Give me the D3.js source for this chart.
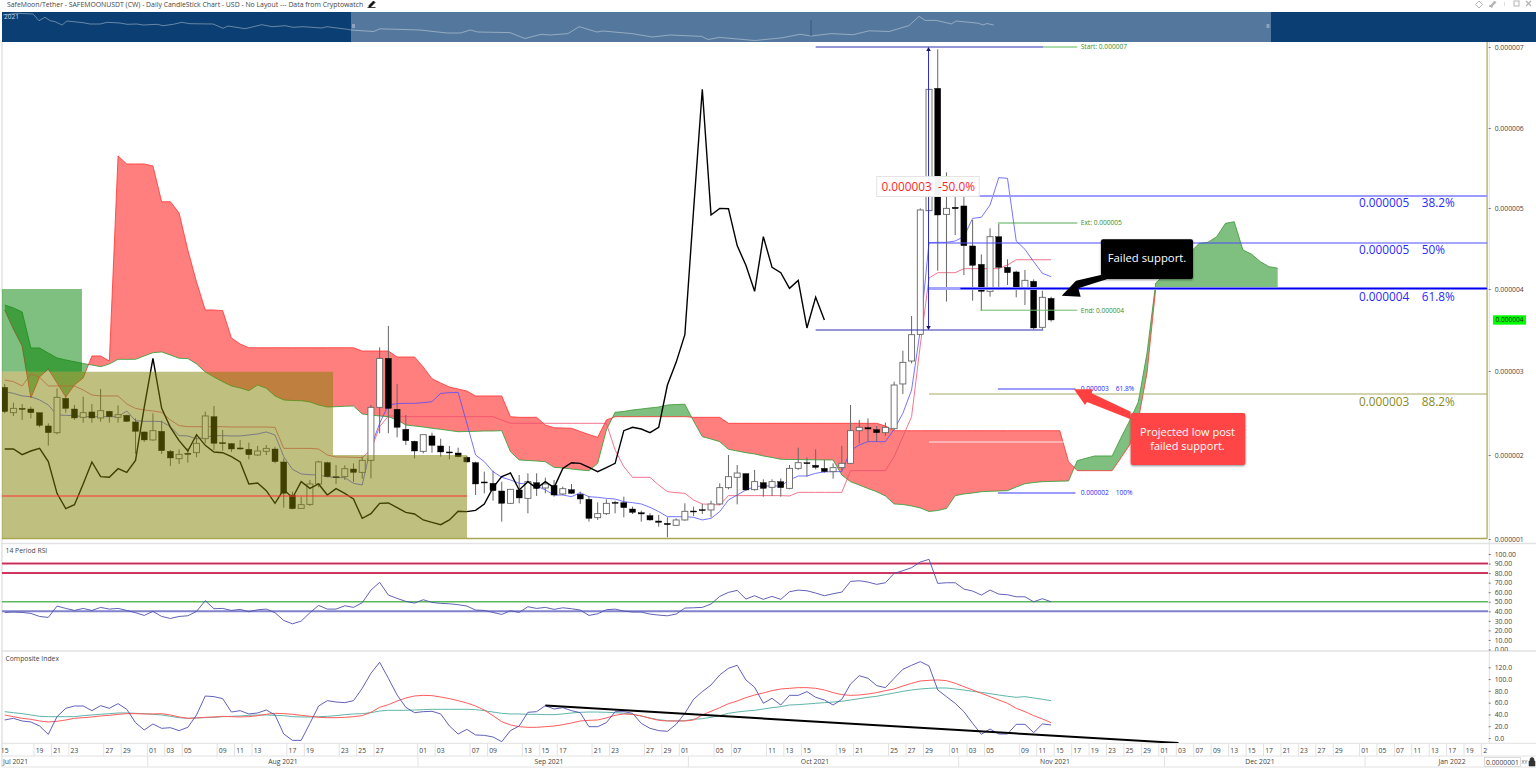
<!DOCTYPE html>
<html><head><meta charset="utf-8">
<script src="https://cdn.jsdelivr.net/npm/d3@7"></script>
<style>html,body{margin:0;padding:0;background:#fff;overflow:hidden}text{font-family:"Open Sans",sans-serif}</style>
</head><body><div id="c"></div>
<script>
// Prices are in millionths of a USD; one value per daily slot from Jul 15 2021.
const open=[2.896,2.579,2.633,2.625,2.579,2.413,2.329,2.758,2.625,2.521,2.588,2.513,2.596,2.521,2.546,2.463,2.338,2.238,2.346,2.096,2.004,2.071,2.079,2.254,2.529,2.204,2.192,2.138,2.121,2.05,2.096,2.125,1.963,1.55,1.383,1.433,1.688,1.954,1.779,1.779,1.875,1.833,1.983,2.646,3.258,2.621,2.371,2.221,2.096,2.288,2.163,2.088,2.075,2.021,1.954,1.713,1.696,1.6,1.446,1.613,1.508,1.704,1.638,1.671,1.563,1.617,1.558,1.496,1.267,1.317,1.458,1.454,1.375,1.329,1.292,1.225,1.196,1.171,1.238,1.35,1.367,1.363,1.438,1.642,1.771,1.817,1.617,1.704,1.646,1.717,1.633,1.883,1.954,1.921,1.883,1.842,1.892,1.946,2.354,2.392,2.367,2.329,2.379,2.938,3.225,3.558,5.104,6.633,5.058,5.146,5.163,4.663,4.433,4.096,4.779,4.396,4.338,4.133,4.221,3.646,4.008];
const close=[2.592,2.633,2.625,2.579,2.421,2.329,2.771,2.633,2.513,2.579,2.513,2.604,2.529,2.554,2.471,2.346,2.238,2.354,2.104,2.013,2.058,2.063,2.196,2.538,2.196,2.196,2.125,2.125,2.054,2.1,2.133,1.967,1.571,1.379,1.429,1.688,1.963,1.779,1.771,1.879,1.833,1.983,2.646,3.258,2.633,2.396,2.229,2.1,2.304,2.171,2.088,2.079,2.029,1.963,1.688,1.7,1.604,1.446,1.621,1.513,1.717,1.633,1.688,1.55,1.629,1.571,1.5,1.258,1.317,1.446,1.45,1.392,1.333,1.313,1.238,1.208,1.179,1.238,1.346,1.342,1.358,1.438,1.642,1.779,1.825,1.613,1.717,1.633,1.717,1.642,1.883,1.954,1.946,1.896,1.842,1.892,1.946,2.354,2.396,2.375,2.329,2.396,2.925,3.208,3.554,5.113,6.621,5.05,5.133,5.129,4.667,4.421,4.096,4.779,4.396,4.329,4.133,4.233,3.638,4.021,3.738];
const high=[2.938,2.704,2.688,2.654,2.579,2.446,2.883,2.779,2.675,2.779,2.688,2.875,2.604,2.671,2.554,2.508,2.342,2.571,2.479,2.113,2.121,2.133,2.308,2.592,2.663,2.363,2.2,2.238,2.204,2.163,2.175,2.154,2.008,1.592,1.529,1.738,1.979,1.967,1.925,1.921,1.946,2.029,2.675,3.396,3.663,2.938,2.55,2.229,2.304,2.329,2.254,2.163,2.142,2.038,1.967,1.842,1.854,1.717,1.621,1.8,1.821,1.821,1.767,1.738,1.654,1.688,1.592,1.538,1.458,1.496,1.479,1.529,1.404,1.354,1.321,1.3,1.271,1.258,1.446,1.404,1.438,1.479,1.696,2.05,1.925,1.821,1.863,1.746,1.746,1.758,1.925,2.142,2.021,2.121,1.988,1.946,2.163,2.675,2.488,2.508,2.413,2.454,2.967,3.354,3.788,5.133,6.621,7.121,5.583,5.342,5.321,4.988,4.558,4.883,4.938,4.496,4.354,4.363,4.246,4.104,4.029];
const low=[2.571,2.537,2.488,2.508,2.396,2.167,2.308,2.579,2.488,2.454,2.454,2.467,2.454,2.454,2.463,2.063,2.213,2.229,2.063,1.913,1.938,1.954,2.021,2.196,2.113,2.104,2.088,2.113,1.996,2.038,2.05,1.946,1.392,1.371,1.379,1.413,1.646,1.771,1.688,1.738,1.713,1.754,1.758,2.321,2.321,2.271,2.175,2.008,2.071,2.079,2.029,1.996,2.021,1.954,1.55,1.571,1.479,1.217,1.438,1.446,1.321,1.538,1.571,1.529,1.55,1.563,1.438,1.217,1.238,1.3,1.321,1.271,1.313,1.217,1.229,1.154,1.021,1.163,1.229,1.288,1.313,1.271,1.425,1.621,1.433,1.604,1.604,1.529,1.538,1.529,1.621,1.863,1.779,1.871,1.829,1.754,1.854,1.938,2.196,2.217,2.217,2.288,2.363,2.813,3.196,3.55,5.104,4.354,3.967,4.8,4.3,3.979,3.854,4.029,4.133,4.175,4.021,3.925,3.621,3.621,3.717];
const kijun=[2.988,2.967,2.913,3.063,3.021,2.913,2.913,2.913,2.913,2.863,2.8,2.788,2.788,2.788,2.688,2.633,2.613,2.6,2.583,2.488,2.417,2.404,2.404,2.404,2.404,2.404,2.4,2.4,2.4,2.4,2.4,2.396,2.133,2.133,2.133,2.133,2.125,2.05,2.025,2.025,2.021,2.017,2.113,2.404,2.538,2.538,2.529,2.529,2.529,2.529,2.529,2.529,2.529,2.529,2.529,2.529,2.529,2.488,2.446,2.446,2.446,2.446,2.446,2.446,2.446,2.446,2.446,2.446,2.446,2.446,2.113,1.904,1.771,1.771,1.771,1.675,1.592,1.579,1.571,1.488,1.438,1.433,1.425,1.542,1.542,1.542,1.542,1.542,1.542,1.542,1.538,1.583,1.583,1.583,1.583,1.583,1.583,1.854,1.854,1.854,1.854,1.854,2.029,2.279,2.529,3.425,4.263,4.329,4.329,4.329,4.379,4.379,4.379,4.379,4.379,4.425,4.491,4.491,4.491,4.491,4.491];
const tenkan=[2.842,2.821,2.788,2.779,2.738,2.675,2.55,2.546,2.542,2.529,2.529,2.529,2.529,2.529,2.6,2.479,2.471,2.471,2.467,2.404,2.292,2.288,2.25,2.271,2.292,2.292,2.288,2.288,2.3,2.313,2.338,2.3,2.029,1.871,1.813,1.804,1.8,1.779,1.767,1.767,1.696,1.675,2.154,2.446,2.675,2.692,2.696,2.696,2.704,2.717,2.821,2.829,2.833,2.446,2.05,1.967,1.842,1.771,1.738,1.696,1.688,1.663,1.613,1.55,1.55,1.529,1.579,1.529,1.521,1.508,1.5,1.467,1.454,1.438,1.396,1.342,1.279,1.279,1.279,1.271,1.238,1.258,1.342,1.488,1.55,1.613,1.654,1.663,1.663,1.663,1.738,1.788,1.788,1.821,1.838,1.842,1.842,2.104,2.175,2.217,2.217,2.217,2.371,2.571,2.863,3.613,4.704,4.708,4.708,4.725,4.779,5.008,5.021,5.175,5.517,5.508,4.725,4.621,4.467,4.321,4.279];
const spanA=[3.925,3.888,3.838,3.388,3.388,3.325,3.263,3.238,3.216,3.194,3.175,3.154,3.188,3.246,3.246,3.246,3.288,3.329,3.338,3.3,3.259,3.256,3.188,3.088,3.025,2.966,2.913,2.888,2.854,2.925,2.884,2.788,2.738,2.731,2.729,2.713,2.675,2.65,2.654,2.659,2.663,2.563,2.55,2.538,2.529,2.488,2.425,2.413,2.4,2.384,2.371,2.356,2.341,2.344,2.346,2.35,2.35,2.354,2.091,1.988,1.981,1.975,1.966,1.896,1.888,1.875,1.863,1.854,1.946,2.363,2.584,2.594,2.613,2.625,2.638,2.65,2.675,2.681,2.684,2.475,2.279,2.25,2.216,2.121,2.1,2.079,2.063,2.038,2.019,1.996,1.994,1.993,1.991,1.99,1.989,1.988,1.8,1.716,1.675,1.631,1.591,1.538,1.438,1.431,1.413,1.388,1.344,1.356,1.381,1.541,1.563,1.575,1.591,1.596,1.6,1.604,1.65,1.691,1.706,1.716,1.72,1.723,1.725,1.979,2.009,2.038,2.038,2.038,2.263,2.475,2.713,3.325,4.2,4.3,4.388,4.488,4.588,4.696,4.709,4.779,4.946,4.966,4.613,4.559,4.466,4.404,4.384];
const spanB=[3.863,3.625,3.413,2.763,3.025,3.125,2.95,2.775,2.925,3.013,3.288,3.288,3.225,5.788,5.688,5.688,5.688,5.663,5.216,5.216,5.075,4.613,4.213,3.863,3.863,3.854,3.513,3.438,3.391,3.391,3.391,3.391,3.391,3.391,3.391,3.391,3.391,3.391,3.391,3.391,3.391,3.35,3.35,3.35,3.35,3.275,3.275,3.275,3.15,3.004,2.95,2.9,2.875,2.85,2.788,2.788,2.788,2.788,2.529,2.521,2.521,2.521,2.425,2.391,2.388,2.384,2.344,2.306,2.271,2.488,2.529,2.529,2.529,2.529,2.529,2.529,2.529,2.529,2.529,2.521,2.521,2.521,2.521,2.446,2.446,2.446,2.446,2.446,2.446,2.446,2.446,2.446,2.446,2.446,2.446,2.446,2.446,2.446,2.446,2.446,2.446,2.413,2.354,2.354,2.354,2.354,2.354,2.354,2.354,2.354,2.354,2.354,2.354,2.354,2.354,2.354,2.354,2.354,2.354,2.354,2.354,2.354,1.966,1.854,1.854,1.854,1.854,1.854,2.013,2.175,2.488,3.075,4.131,4.131,4.131,4.131,4.131,4.131,4.131,4.131,4.131,4.131,4.131,4.131,4.131,4.131,4.131];
const rsi=[38.8,39.2,38.8,37.8,34.6,33.6,45.5,43,40.9,43,40.9,44.1,42.3,43,40.9,38.5,35.7,39.9,34.6,32.5,34.6,35.3,39.9,51.1,42.7,43,40.9,42,39.5,41.6,42.3,38.5,30.4,26.9,29.7,38.5,46.2,42.3,42.3,45.8,44.1,49,62.2,70.3,57,53.5,50.4,48.6,52.1,49.3,48.3,47.9,46.9,45.5,41.3,40.9,38.8,36.7,40.6,38.8,44.8,43,44.1,42,43.7,42.7,41.3,35.7,37.4,41.6,42.3,40.2,39.2,39.2,37.1,36,35.3,37.1,43.4,43.7,44.1,47.6,55.6,59.8,61.9,52.8,56.3,52.5,55.6,52.5,60.5,62.2,61.5,59.1,56.3,58.4,60.1,71.3,72,70.6,68.2,69.9,79.7,82.5,85.7,91.6,94.4,69.2,69.9,69.9,63.3,61.2,57,62.2,58,57.3,55.2,55.2,50,53.2,50];
const composite=[30.6,33.4,28.9,27.2,20.4,6.2,36.2,50.4,54.3,54.3,46.4,54.9,50.4,58.3,48.7,26,13.6,23.8,16.4,17.5,12.5,18.1,39.1,71.3,70.2,66.8,44.1,46.4,40.8,42.5,47.5,39.1,6.8,-4,-4,24.9,54.3,63.4,61.1,60,63.4,84.3,109.8,128.5,101.3,73,52.1,43,44.7,45.3,40.8,20.4,6.8,14.7,5.1,4.5,1.7,-6.2,12.5,20.4,43.6,44.7,54.9,49.2,51.5,46.4,43,19.2,19.2,26,44.7,44.7,41.9,24.9,16.4,12.5,11.3,23.2,41.9,65.7,78.7,90,107,118.3,123.4,98.5,86,58.9,67.4,56,72.4,72.4,78.7,69.1,64.5,56,65.7,91.7,105.8,101.3,88.9,85.5,101.3,116.6,123.4,129.6,122.3,81.5,70.2,58.9,44.7,24.9,6.2,15.3,6.8,6.8,23.2,23.2,9.1,23.8,22.1];
const compositeFast=[39.1,36.2,33.4,31.7,28.9,27.2,28.3,30.6,33.4,34.5,35.7,37.4,38.5,40.2,41.3,41.3,40.8,40.8,41.3,39.1,35.7,33.4,34,35.1,35.7,36.8,36.2,35.7,36.2,37.9,40.2,41.9,41.3,40.2,38.5,36.8,35.1,34.5,34.5,35.1,36.2,37.9,43.6,52.1,56.6,62.8,67.9,71.3,72.4,71.9,69.6,66.8,63.4,59.4,54.3,47.5,37.9,27.7,22.1,19.2,18.1,18.1,19.2,20.4,22.6,25.5,28.9,30,30.6,34,38.5,40.8,40.2,37.4,33.4,30,28.9,28.9,28.9,30.6,39.1,45.3,51.5,58.3,62.8,68.5,73,76.4,80.4,83.2,84.3,85.5,85.5,84.3,81.5,77,73.6,72.4,73,74.7,77,80.4,83.2,88.3,92.8,96.8,97.9,98.5,97.4,92.8,87.2,81.5,75.8,70.2,64.5,58.9,50.4,44.7,37.9,32.3,26];
const compositeSlow=[44.7,43,41.3,39.1,36.8,36.2,36.2,36.2,36.2,37.9,39.1,40.2,41.3,42.5,42.5,41.9,41.3,40.2,39.1,36.8,34.5,33.4,34,34.5,35.1,36.2,36.8,37.4,38.5,39.1,39.1,38.5,37.9,36.2,35.7,35.7,36.2,36.8,37.9,39.6,40.8,41.3,43,45.8,47,47,47,47.5,48.1,48.7,48.7,48.7,48.7,48.7,48.1,46.4,44.1,41.9,40.8,40.8,40.2,40.2,39.6,39.6,40.8,42.5,43.6,44.1,44.1,43.6,43,41.9,40.2,37.4,34,31.1,29.4,28.9,29.4,31.7,32.8,35.1,37.9,41.9,44.1,45.8,47,49.2,51.5,53.2,56,56.6,57.7,58.9,60,61.1,62.3,64.5,66.8,69.1,70.8,73.6,76.4,79.2,81.5,83.2,84.3,84.9,84.9,83.2,81.5,79.2,77.5,75.3,73,70.8,69.1,70.2,67.9,65.7,63.4];
const navDays=[-64.8,-62.2,-59.2,-58.1,-57,-56,-55.1,-53.8,-52.9,-49.9,-48.6,-46.7,-45.4,-43,-41.7,-39.9,-38.7,-36.1,-35,-33.1,-31.5,-30,-25.7,-23.8,-22.9,-19.7,-16.6,-14.7,-12.3,-10.8,-8.9,-5.4,-4.5,-0.7,0,4.2,5.4,12.8,17.9,20.4,22.2,23.6,29.6,32.4,35.4,37.1,40.4,42.5,45.8,46.9,52.3,56.1,59.4,65.3,66.5,68.6,75.2,80.3,83.6,85.7,89.4,93.5,96.5,100.2,103.9,105.8,106.9,109,111.8,112.7,116.8,117.7,118.4,119.7];
const navLevels=[27,28.7,28,21.3,24.7,21.3,20.3,17,21,19.3,18,18,19.7,19,17.7,18,17,17.7,16.3,17.7,19.7,18.3,18,13.7,16,13.3,17.3,15.3,16.3,14.7,15.3,14,15.3,12.7,12,10.5,13.2,12,9,9,12,10,9.4,3.5,7.7,7,8.4,15.3,10,11,8.4,5,7,5.6,2.5,4.6,1.5,4.2,7.7,6,8.4,7.3,11.2,10.5,16.4,25.7,21.6,21.6,18.1,21,18.8,17,18.5,17];
const dayTickSlots=[0,4,6,8,12,14,17,19,21,25,27,29,33,35,39,41,43,48,50,54,56,60,62,64,68,70,74,76,78,82,84,88,90,92,96,98,102,104,106,109,111,113,117,119,121,123,125,127,129,131,133,135,137,139,141,143,145,147,149,151,153,156,158,160,162,164,166,168,170];
const dayTickLabels=["15","19","21","23","27","29","01","03","05","09","11","13","17","19","23","25","27","01","03","07","09","13","15","17","21","23","27","29","01","05","07","11","13","15","19","21","25","27","29","01","03","05","09","11","15","17","19","23","25","29","01","03","07","09","13","15","17","21","23","27","29","01","05","07","11","13","17","19","21"];
const monthLabels=["Jul 2021","Aug 2021","Sep 2021","Oct 2021","Nov 2021","Dec 2021","Jan 2022"];
const monthStartSlots=[-1,16.4,47.4,78.4,109.4,133,156];
const priceTicks=[1,2.05,3.1,4.125,5.1375,6.1375,7.15];
const rsiTicks=[0,10,20,30,40,50,60,70,80,90,100];
const compositeTicks=[0,20,40,60,80,100,120];

const W=1536,H=770,L=2,R=1488;
const x=d3.scaleLinear().domain([0,170]).range([4.7,1487.1]);
const y=d3.scaleLinear().domain([1,7.15]).range([539,47]);
const yR=d3.scaleLinear().domain([0,100]).range([649.5,554]);
const yC=d3.scaleLinear().domain([0,120]).range([738,667.3]);
const xNav=d3.scaleLinear().domain([0,120]).range([351,995.4]);
const yNav=d3.scaleLinear().domain([0,30]).range([42,12]);

const svg=d3.select("#c").append("svg").attr("width",W).attr("height",H).style("display","block");
const defs=svg.append("defs");
const clip=(id,a,b,c,d)=>defs.append("clipPath").attr("id",id).append("rect").attr("x",a).attr("y",b).attr("width",c-a).attr("height",d-b);
clip("cMain",L,42,R,540);clip("cRsi",L,544,R,651);clip("cCmp",L,652,R,743);clip("cAxis",L,743,R,756);clip("cR",R,544,1536,651);
const sh=defs.append("filter").attr("id","shadow").attr("x","-10%").attr("y","-10%").attr("width","120%").attr("height","130%");
sh.append("feDropShadow").attr("dx",0).attr("dy",1).attr("stdDeviation",1.2).attr("flood-color","#000").attr("flood-opacity",.45);

const sep="#e2e2e2";
// title
svg.append("text").attr("x",7).attr("y",6.8).attr("font-size",6.88).attr("fill","#444").text("SafeMoon/Tether - SAFEMOONUSDT (CW) - Daily CandleStick Chart - USD - No Layout --- Data from Cryptowatch");
svg.append("path").attr("d","M367.5 7.5h8M369 5.5l4.5-4.5 1.5 1.5-4.5 4.5h-1.5z").attr("fill","#111").attr("stroke","#111").attr("stroke-width",.8);
// window icons
const ic=svg.append("g").attr("fill","none").attr("stroke","#b5b5b5").attr("stroke-width",1);
ic.append("path").attr("d","M1479 1l3.5 3.5-3.5 3.5-3.5-3.5z");
ic.append("path").attr("d","M1489 7l3-3 2.5-3 1.5 1.5-3 2.5-1 2.5-3-2").attr("fill","#b5b5b5");
ic.append("path").attr("d","M1504.5 2v4").attr("stroke","#ddd");
ic.append("rect").attr("x",1514).attr("y",1).attr("width",5).attr("height",5);
ic.append("path").attr("d","M1526 1l5 5M1531 1l-5 5").attr("stroke-width",1.4);

// navigator
svg.append("rect").attr("x",L).attr("y",12).attr("width",W-L).attr("height",30).attr("fill","#0b3e72");
svg.append("rect").attr("x",351).attr("y",12).attr("width",920).attr("height",30).attr("fill","#54789d");
svg.append("path").attr("d",d3.line().x(d=>xNav(d[0])).y(d=>yNav(d[1]))(d3.zip(navDays,navLevels))).attr("fill","none").attr("stroke","#fff").attr("stroke-opacity",.42).attr("stroke-width",.9);
svg.append("line").attr("x1",811).attr("x2",811).attr("y1",20).attr("y2",36).attr("stroke","#2c4e78").attr("stroke-width",.8);
svg.append("text").attr("x",4).attr("y",18.5).attr("font-size",6.5).attr("fill","#cfd9e4").text("2021");
[[353.5],[1268]].forEach(d=>svg.append("rect").attr("x",d[0]-1.5).attr("y",24).attr("width",3).attr("height",4).attr("fill","#8ca3bb"));

// frame
svg.append("line").attr("x1",L).attr("x2",L).attr("y1",42).attr("y2",767).attr("stroke",sep).attr("stroke-width",1.5);
svg.append("line").attr("x1",1489.3).attr("x2",1489.3).attr("y1",42).attr("y2",743).attr("stroke",sep).attr("stroke-width",1);
[543.5,651,743.3,756,767].forEach(v=>svg.append("line").attr("x1",L).attr("x2",W).attr("y1",v).attr("y2",v).attr("stroke",sep).attr("stroke-width",v===651||v===543.5?1.5:1));

// main chart
const main=svg.append("g").attr("clip-path","url(#cMain)");
const slots=spanA.map((_,i)=>i);
const aboveA=d3.area().x(i=>x(i)).y0(42).y1(i=>y(spanA[i]));
const belowA=d3.area().x(i=>x(i)).y0(560).y1(i=>y(spanA[i]));
defs.append("clipPath").attr("id","cAbove").append("path").attr("d",aboveA(slots));
defs.append("clipPath").attr("id","cBelow").append("path").attr("d",belowA(slots));
const kumo=d3.area().x(i=>x(i)).y0(i=>y(spanA[i])).y1(i=>y(spanB[i]));
main.append("path").attr("d",kumo(slots)).attr("fill","rgb(255,0,0)").attr("fill-opacity",.5).attr("clip-path","url(#cAbove)");
main.append("path").attr("d",kumo(slots)).attr("fill","rgb(0,128,0)").attr("fill-opacity",.5).attr("clip-path","url(#cBelow)");
const serie=arr=>d3.line().x((d,i)=>x(i)).y(d=>y(d))(arr);
main.append("path").attr("d",serie(spanA)).attr("fill","none").attr("stroke","#2f9a2f").attr("stroke-opacity",.8).attr("stroke-width",1);
main.append("path").attr("d",serie(spanB)).attr("fill","none").attr("stroke","#ff2a2a").attr("stroke-opacity",.75).attr("stroke-width",1);
main.append("path").attr("d",serie(kijun)).attr("fill","none").attr("stroke","#ee4b6a").attr("stroke-opacity",.85).attr("stroke-width",.9);
main.append("path").attr("d",serie(tenkan)).attr("fill","none").attr("stroke","#4a4aff").attr("stroke-opacity",.85).attr("stroke-width",.9);

// candles
const cg=main.append("g");
open.forEach((o,i)=>{
  const c=close[i],up=c>o,xx=x(i);
  cg.append("line").attr("x1",xx).attr("x2",xx).attr("y1",y(high[i])).attr("y2",y(low[i])).attr("stroke","#666").attr("stroke-width",1);
  const t=y(Math.max(o,c)),b=y(Math.min(o,c));
  cg.append("rect").attr("x",xx-3).attr("y",t).attr("width",6).attr("height",Math.max(b-t,1))
    .attr("fill",up?"#fff":"#000").attr("stroke",up?"#666":"#000").attr("stroke-width",up?.9:.4);
});
// lagging close: the close series drawn 26 slots back
const lagSpan=close.slice(26);
main.append("path").attr("d",serie(lagSpan)).attr("fill","none").attr("stroke","#000").attr("stroke-width",1.4);

// level boxes (drawn over the price)
const box=(pts,col)=>main.append("path").attr("d",d3.line()(pts.map(p=>[x(p[0]),y(p[1])]))+"Z").attr("fill",col).attr("fill-opacity",.5);
box([[-0.6,4.125],[8.86,4.125],[8.86,3.091],[-0.6,3.091]],"rgb(0,128,0)");
box([[-0.6,3.091],[37.65,3.091],[37.65,2.05],[53.02,2.05],[53.02,1.006],[-0.6,1.006]],"rgb(128,128,0)");
const hl=(a,b,v,col,w,op)=>main.append("line").attr("x1",x(a)).attr("x2",x(b)).attr("y1",y(v)).attr("y2",y(v)).attr("stroke",col).attr("stroke-width",w).attr("stroke-opacity",op||1);
hl(-0.6,53.02,1.5375,"#ff3030",1);
hl(-0.6,170,1.006,"#a8a850",1.4);
main.append("line").attr("x1",x(170)).attr("x2",x(170)).attr("y1",42).attr("y2",539).attr("stroke","#b5b56a").attr("stroke-width",1.4);

// fibonacci levels
hl(93,119.1,7.15,"#2c2cb0",1);hl(119.1,123,7.15,"#5cb85c",1);
hl(93,119.1,3.6125,"#2c2cb0",1);
hl(113.9,123,4.95,"#3f9f3f",.9);hl(111.9,123,3.86,"#6cbc6c",1);
hl(106,170,5.2875,"#9a9aff",1.8);
hl(106,170,4.7,"#4c4cff",1);
hl(106,170,4.131,"#a4a4ff",3);hl(109.6,170,4.131,"#0000f0",1.5);
hl(106,170,2.8125,"#a8a860",1);
hl(106,121.5,2.2125,"#fff",1,.8);
hl(113.9,122.8,2.875,"#3a3aff",1);hl(113.9,122.8,1.575,"#3a3aff",1);
// measured-move arrow
const ax=x(106)-.5;
main.append("line").attr("x1",ax).attr("x2",ax).attr("y1",y(7.15)+3).attr("y2",y(3.6125)-3).attr("stroke","#2c2cd0").attr("stroke-width",1);
main.append("path").attr("d",`M${ax} ${y(7.15)}l-2.3 4h4.6zM${ax} ${y(3.6125)}l-2.3 -4h4.6z`).attr("fill","#15157a");

// small labels
const lab=(slot,v,t,col,fs,dy)=>svg.append("text").attr("x",x(slot)).attr("y",y(v)+(dy||2.4)).attr("font-size",fs||6.6).attr("fill",col).text(t);
const gr="#2f8f2f",bl="#2a2aff";
lab(123.4,7.15,"Start: 0.000007",gr);lab(123.4,4.95,"Ext: 0.000005",gr);lab(123.4,3.86,"End: 0.000004",gr);
lab(123.4,2.875,"0.000003",bl);lab(127.4,2.875,"61.8%",bl);lab(123.4,1.575,"0.000002",bl);lab(127.4,1.575,"100%",bl);
lab(155.3,5.2875,"0.000005",bl,11.8,11);lab(162.5,5.2875,"38.2%",bl,11.8,11);
lab(155.3,4.7,"0.000005",bl,11.8,10.5);lab(162.5,4.7,"50%",bl,11.8,10.5);
lab(155.3,4.131,"0.000004",bl,11.8,12);lab(162.5,4.131,"61.8%",bl,11.8,12);
lab(155.3,2.8125,"0.000003",'#8a8a1e',11.8,11.5);lab(162.5,2.8125,"88.2%",'#8a8a1e',11.8,11.5);

// value box
svg.append("rect").attr("x",876.7).attr("y",176.5).attr("width",102.5).attr("height",20).attr("fill","#fff").attr("fill-opacity",.95).attr("stroke","#e4e4e4").attr("stroke-width",1);
svg.append("text").attr("x",881.5).attr("y",190.7).attr("font-size",11.8).attr("fill","#ff1f1f").text("0.000003");
svg.append("text").attr("x",938).attr("y",190.7).attr("font-size",11.8).attr("fill","#ff1f1f").text("-50.0%");

// callouts
svg.append("path").attr("d","M1100.7 275L1076 280.7L1061.7 295.7L1080.7 296.7L1078.3 288.3L1106.7 279.3Z").attr("fill","#000");
svg.append("rect").attr("x",1101).attr("y",239.3).attr("width",92).attr("height",39.7).attr("rx",2).attr("fill","#000").attr("filter","url(#shadow)");
svg.append("text").attr("x",1147).attr("y",262).attr("text-anchor","middle").attr("font-size",11.3).attr("fill","#fff").text("Failed support.");
svg.append("path").attr("d","M1130.7 411.7L1091.7 393.3L1092.7 389.3L1074 389.3L1085 405L1087 402L1130.7 419.3Z").attr("fill","#ff4040");
svg.append("rect").attr("x",1130.7).attr("y",413).attr("width",114.6).attr("height",52).attr("rx",2).attr("fill","#ff4444").attr("filter","url(#shadow)");
svg.append("text").attr("x",1187.5).attr("y",436).attr("text-anchor","middle").attr("font-size",11).attr("fill","#fff").text("Projected low post");
svg.append("text").attr("x",1187.5).attr("y",450).attr("text-anchor","middle").attr("font-size",11).attr("fill","#fff").text("failed support.");

// price axis
const fmtPrice=v=>d3.format(".6f")(v*1e-6);
const styleAxis=g=>{g.select(".domain").remove();g.selectAll("line").attr("stroke","#777");g.selectAll("text").attr("font-size",6.8).attr("fill","#444").style("font-family",'"Open Sans",sans-serif');};
svg.append("g").attr("transform",`translate(${R+.7},0)`).call(d3.axisRight(y).tickValues(priceTicks).tickFormat(fmtPrice).tickSize(2).tickPadding(4)).call(styleAxis);
const last=close[close.length-1];
svg.append("rect").attr("x",1493).attr("y",y(last)-4.7).attr("width",33).attr("height",9.4).attr("fill","#00ff00");
svg.append("text").attr("x",1509.5).attr("y",y(last)+2.4).attr("text-anchor","middle").attr("font-size",6.6).attr("fill","#222").text(fmtPrice(last));

// RSI panel
const rsiG=svg.append("g").attr("clip-path","url(#cRsi)");
[[90,"#e23c66",2],[80,"#e23c66",2],[50,"#5cb85c",1.4],[40,"#8282cc",2]].forEach(d=>rsiG.append("line").attr("x1",L).attr("x2",R).attr("y1",yR(d[0])).attr("y2",yR(d[0])).attr("stroke",d[1]).attr("stroke-width",d[2]));
[90,80].forEach(v=>rsiG.append("line").attr("x1",L).attr("x2",R).attr("y1",yR(v)).attr("y2",yR(v)).attr("stroke","#a02850").attr("stroke-width",.6));
rsiG.append("path").attr("d",d3.line().x((d,i)=>x(i)).y(d=>yR(d))(rsi)).attr("fill","none").attr("stroke","#4f4fb0").attr("stroke-width",.9);
svg.append("text").attr("x",5.5).attr("y",553).attr("font-size",6.8).attr("fill","#444").text("14 Period RSI");
svg.append("g").attr("clip-path","url(#cR)").append("g").attr("transform",`translate(${R+.7},0)`).call(d3.axisRight(yR).tickValues(rsiTicks).tickFormat(d3.format(".2f")).tickSize(2).tickPadding(4)).call(styleAxis);

// composite panel
const cmpG=svg.append("g").attr("clip-path","url(#cCmp)");
const cline=arr=>d3.line().x((d,i)=>x(i)).y(d=>yC(d))(arr);
cmpG.append("path").attr("d",cline(compositeSlow)).attr("fill","none").attr("stroke","#5fb5aa").attr("stroke-width",1);
cmpG.append("path").attr("d",cline(compositeFast)).attr("fill","none").attr("stroke","#ff5c5c").attr("stroke-width",1);
cmpG.append("path").attr("d",cline(composite)).attr("fill","none").attr("stroke","#4f4fb0").attr("stroke-width",.9);
cmpG.append("line").attr("x1",x(62)).attr("y1",yC(55)).attr("x2",x(134.6)).attr("y2",yC(-8.5)).attr("stroke","#000").attr("stroke-width",2);
svg.append("text").attr("x",5.5).attr("y",661).attr("font-size",6.8).attr("fill","#444").text("Composite Index");
svg.append("g").attr("transform",`translate(${R+.7},0)`).call(d3.axisRight(yC).tickValues(compositeTicks).tickFormat(d3.format(".1f")).tickSize(2).tickPadding(4)).call(styleAxis);

// date axis
const dg=svg.append("g").attr("clip-path","url(#cAxis)");
dayTickSlots.forEach((s,i)=>{
  if(i>0) dg.append("line").attr("x1",x(s)-5.6).attr("x2",x(s)-5.6).attr("y1",743).attr("y2",756).attr("stroke",sep);
  dg.append("text").attr("x",x(s)).attr("y",752.7).attr("text-anchor","middle").attr("font-size",6.8).attr("fill","#444").text(dayTickLabels[i]);
});
const mCenters=[null,283,549,815,1055,1260,1452];
monthLabels.forEach((m,i)=>{
  const sx=i===0?L:x(monthStartSlots[i]);
  if(i>0) svg.append("line").attr("x1",sx).attr("x2",sx).attr("y1",756).attr("y2",767).attr("stroke",sep);
  svg.append("text").attr("x",i===0?3:mCenters[i]).attr("y",764.3).attr("text-anchor",i===0?"start":"middle").attr("font-size",6.8).attr("fill","#444").text(m);
});
// scale box
svg.append("rect").attr("x",1484.5).attr("y",757.5).attr("width",36).attr("height",9).attr("fill","#fff").attr("stroke","#ccc").attr("stroke-width",.7);
svg.append("text").attr("x",1486).attr("y",764.7).attr("font-size",6.8).attr("fill","#444").text("0.0000001");
svg.append("text").attr("x",1521.5).attr("y",763.5).attr("font-size",5).attr("fill","#555").text("XY");
svg.append("path").attr("d","M1529 761h6v5h-6zM1530 761v-1.5a2 2 0 0 1 4 0v1.5").attr("fill","#333").attr("stroke","#333").attr("stroke-width",.6);
</script></body></html>
